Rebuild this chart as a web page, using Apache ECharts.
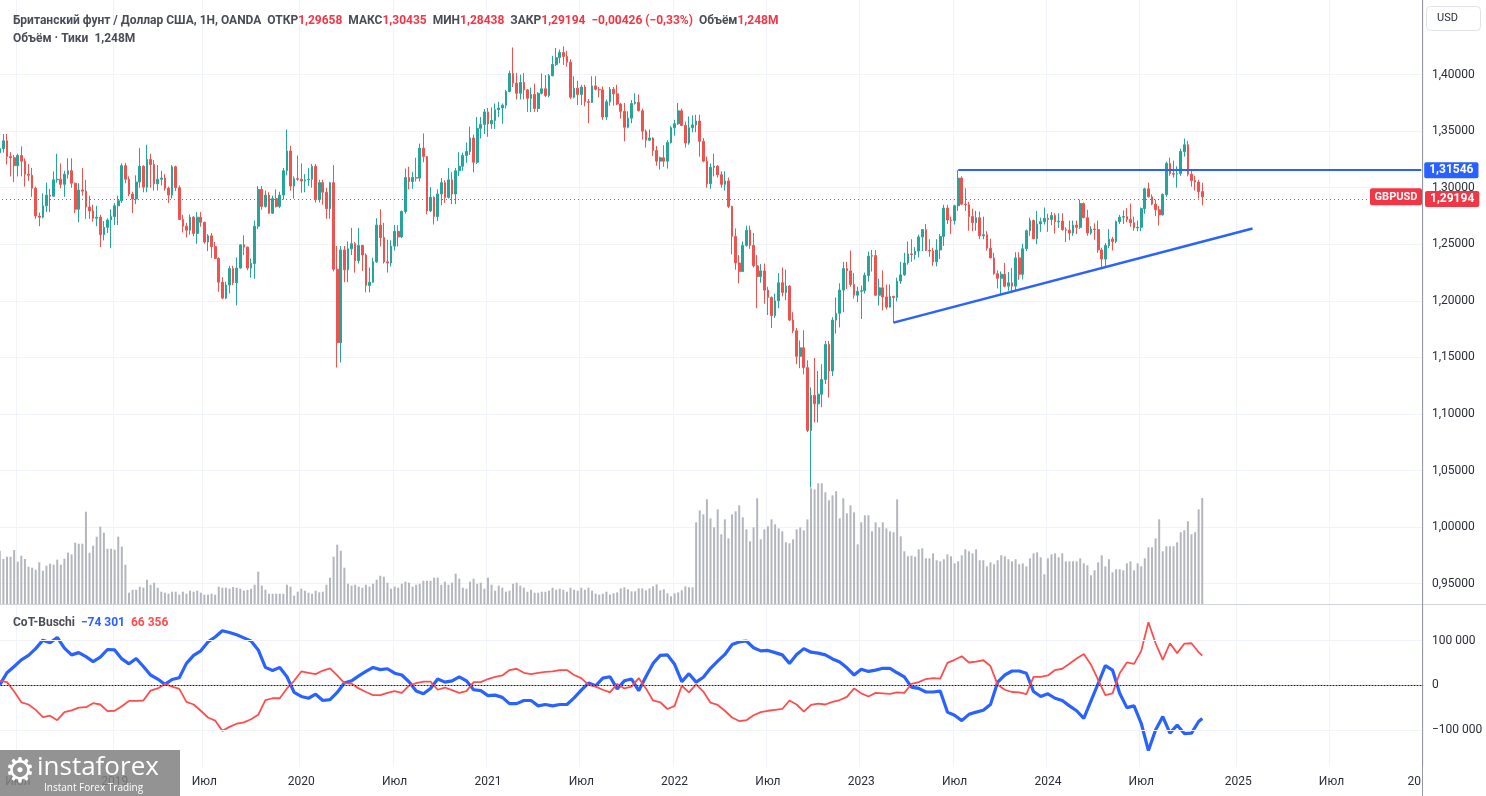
<!DOCTYPE html>
<html>
<head>
<meta charset="utf-8">
<script src="https://cdn.jsdelivr.net/npm/echarts@6/dist/echarts.min.js"></script>
<style>
  html, body { margin: 0; padding: 0; background: #fff; }
  #chart { width: 1486px; height: 796px; }
</style>
</head>
<body>
<div id="chart"></div>
<script>
// GBPUSD, weekly bars from 2018-05-28 to 2024-10-28, [open, close, low, high]
var y2018 = [
  [1.3310,1.3345,1.3205,1.3365],[1.3345,1.3415,1.3310,1.3475],[1.3415,1.3275,1.3205,1.3475],[1.3275,1.3265,1.3100,1.3315],
  [1.3265,1.3195,1.3050,1.3290],[1.3195,1.3285,1.3100,1.3300],[1.3285,1.3235,1.3100,1.3365],[1.3235,1.3120,1.3010,1.3260],
  [1.3120,1.3110,1.3060,1.3210],[1.3110,1.2995,1.2920,1.3175],[1.2995,1.2750,1.2725,1.3010],[1.2750,1.2740,1.2660,1.2780],
  [1.2740,1.2840,1.2730,1.2950],[1.2840,1.2935,1.2785,1.3045],[1.2935,1.2925,1.2785,1.2990],[1.2925,1.3070,1.2920,1.3145],
  [1.3070,1.3075,1.3045,1.3300],[1.3075,1.3030,1.2995,1.3215],[1.3030,1.3120,1.2920,1.3150],[1.3120,1.3150,1.3080,1.3260],
  [1.3150,1.3040,1.3000,1.3260],[1.3040,1.2810,1.2775,1.3045],[1.2810,1.2980,1.2695,1.3040],[1.2980,1.2970,1.2930,1.3175],
  [1.2970,1.2830,1.2725,1.3070],[1.2830,1.2795,1.2725,1.2930],[1.2795,1.2730,1.2700,1.2850],[1.2730,1.2740,1.2660,1.2840],
  [1.2740,1.2585,1.2475,1.2760],[1.2585,1.2650,1.2535,1.2705],[1.2650,1.2715,1.2600,1.2730],[1.2715,1.2745,1.2465,1.2810]
];
var y2019 = [
  [1.2745,1.2840,1.2670,1.2865],[1.2840,1.2885,1.2670,1.2930],[1.2885,1.3195,1.2865,1.3215],[1.3195,1.3075,1.3040,1.3220],
  [1.3075,1.2945,1.2925,1.3100],[1.2945,1.2900,1.2775,1.2965],[1.2900,1.3050,1.2855,1.3110],[1.3050,1.3190,1.3000,1.3350],
  [1.3190,1.3005,1.2960,1.3200],[1.3005,1.3250,1.2960,1.3380],[1.3250,1.3205,1.3000,1.3300],[1.3205,1.3035,1.2975,1.3245],
  [1.3035,1.3075,1.2975,1.3200],[1.3075,1.3085,1.3020,1.3150],[1.3085,1.2995,1.2975,1.3120],[1.2995,1.2935,1.2865,1.3010],
  [1.2935,1.3185,1.2905,1.3200],[1.3185,1.3000,1.2970,1.3195],[1.3000,1.2720,1.2715,1.3020],[1.2720,1.2660,1.2605,1.2760],
  [1.2660,1.2625,1.2560,1.2690],[1.2625,1.2740,1.2585,1.2765],[1.2740,1.2595,1.2570,1.2750],[1.2595,1.2740,1.2505,1.2785],
  [1.2740,1.2695,1.2655,1.2785],[1.2695,1.2520,1.2505,1.2700],[1.2520,1.2575,1.2440,1.2590],[1.2575,1.2480,1.2380,1.2600],
  [1.2480,1.2375,1.2370,1.2520],[1.2375,1.2165,1.2080,1.2385],[1.2165,1.2025,1.2015,1.2210],[1.2025,1.2140,1.2015,1.2170],
  [1.2140,1.2285,1.2065,1.2310],[1.2285,1.2160,1.2140,1.2310],[1.2160,1.2290,1.1960,1.2385],[1.2290,1.2495,1.2285,1.2500],
  [1.2495,1.2475,1.2405,1.2580],[1.2475,1.2290,1.2270,1.2480],[1.2290,1.2330,1.2205,1.2375],[1.2330,1.2660,1.2195,1.2710],
  [1.2660,1.2985,1.2635,1.3015],[1.2985,1.2835,1.2805,1.3015],[1.2835,1.2935,1.2825,1.2975],[1.2935,1.2775,1.2770,1.2960],
  [1.2775,1.2905,1.2770,1.2930],[1.2905,1.2835,1.2825,1.2985],[1.2835,1.2935,1.2820,1.2965],[1.2935,1.3150,1.2895,1.3175],
  [1.3150,1.3325,1.3110,1.3515],[1.3325,1.3015,1.2975,1.3370],[1.3015,1.3080,1.2905,1.3100],[1.3080,1.3075,1.3060,1.3285]
];
var y2020 = [
  [1.3075,1.3060,1.2955,1.3215],[1.3060,1.3070,1.2960,1.3120],[1.3070,1.3075,1.3015,1.3175],[1.3075,1.3190,1.3000,1.3210],
  [1.3190,1.2895,1.2870,1.3210],[1.2895,1.3045,1.2870,1.3070],[1.3045,1.2960,1.2850,1.3070],[1.2960,1.2815,1.2725,1.3000],
  [1.2815,1.3045,1.2725,1.3050],[1.3045,1.2280,1.2260,1.3200],[1.2280,1.1630,1.1410,1.2485],[1.1630,1.2450,1.1455,1.2485],
  [1.2450,1.2275,1.2165,1.2485],[1.2275,1.2460,1.2165,1.2525],[1.2460,1.2505,1.2405,1.2645],[1.2505,1.2355,1.2250,1.2520],
  [1.2355,1.2490,1.2330,1.2645],[1.2490,1.2405,1.2265,1.2495],[1.2405,1.2135,1.2075,1.2420],[1.2135,1.2165,1.2075,1.2295],
  [1.2165,1.2345,1.2160,1.2380],[1.2345,1.2670,1.2335,1.2730],[1.2670,1.2560,1.2480,1.2810],[1.2560,1.2345,1.2330,1.2690],
  [1.2345,1.2335,1.2250,1.2540],[1.2335,1.2485,1.2305,1.2535],[1.2485,1.2615,1.2445,1.2670],[1.2615,1.2565,1.2480,1.2670],
  [1.2565,1.2790,1.2555,1.2800],[1.2790,1.3090,1.2770,1.3170],[1.3090,1.3055,1.2985,1.3185],[1.3055,1.3090,1.2990,1.3140],
  [1.3090,1.3085,1.3055,1.3265],[1.3085,1.3350,1.3055,1.3390],[1.3350,1.3275,1.3225,1.3480],[1.3275,1.2795,1.2765,1.3280],
  [1.2795,1.2915,1.2785,1.3005],[1.2915,1.2745,1.2675,1.2925],[1.2745,1.2945,1.2705,1.2985],[1.2945,1.3045,1.2845,1.3085],
  [1.3045,1.2915,1.2865,1.3065],[1.2915,1.3070,1.2905,1.3175],[1.3070,1.2945,1.2855,1.3140],[1.2945,1.3150,1.2855,1.3175],
  [1.3150,1.3190,1.3105,1.3315],[1.3190,1.3285,1.3150,1.3310],[1.3285,1.3320,1.3220,1.3400],[1.3320,1.3440,1.3290,1.3540],
  [1.3440,1.3225,1.3135,1.3470],[1.3225,1.3525,1.3210,1.3625],[1.3525,1.3560,1.3435,1.3625],[1.3560,1.3670,1.3475,1.3695]
];
var y2021 = [
  [1.3670,1.3565,1.3450,1.3705],[1.3565,1.3595,1.3520,1.3710],[1.3595,1.3690,1.3520,1.3745],[1.3690,1.3705,1.3625,1.3760],
  [1.3705,1.3730,1.3565,1.3745],[1.3730,1.3850,1.3700,1.3865],[1.3850,1.4010,1.3845,1.4035],[1.4010,1.3925,1.3890,1.4240],
  [1.3925,1.3835,1.3780,1.4015],[1.3835,1.3930,1.3780,1.4000],[1.3930,1.3865,1.3780,1.4015],[1.3865,1.3790,1.3670,1.3870],
  [1.3790,1.3825,1.3670,1.3885],[1.3825,1.3700,1.3670,1.3920],[1.3700,1.3835,1.3670,1.3845],[1.3835,1.3875,1.3825,1.4010],
  [1.3875,1.3815,1.3800,1.3995],[1.3815,1.3990,1.3800,1.4005],[1.3990,1.4090,1.3985,1.4165],[1.4090,1.4150,1.4075,1.4235],
  [1.4150,1.4195,1.4100,1.4220],[1.4195,1.4160,1.4085,1.4250],[1.4160,1.4110,1.4070,1.4210],[1.4110,1.3800,1.3785,1.4135],
  [1.3800,1.3880,1.3790,1.3985],[1.3880,1.3825,1.3730,1.3945],[1.3825,1.3890,1.3730,1.3910],[1.3890,1.3760,1.3720,1.3910],
  [1.3760,1.3755,1.3570,1.3785],[1.3755,1.3900,1.3750,1.3985],[1.3900,1.3870,1.3860,1.3985],[1.3870,1.3865,1.3800,1.3890],
  [1.3865,1.3625,1.3600,1.3895],[1.3625,1.3760,1.3600,1.3780],[1.3760,1.3870,1.3725,1.3890],[1.3870,1.3830,1.3725,1.3890],
  [1.3830,1.3740,1.3730,1.3910],[1.3740,1.3675,1.3610,1.3750],[1.3675,1.3535,1.3410,1.3750],[1.3535,1.3615,1.3525,1.3675],
  [1.3615,1.3745,1.3570,1.3775],[1.3745,1.3755,1.3735,1.3835],[1.3755,1.3680,1.3675,1.3825],[1.3680,1.3500,1.3425,1.3700],
  [1.3500,1.3420,1.3355,1.3515],[1.3420,1.3440,1.3415,1.3515],[1.3440,1.3330,1.3280,1.3445],[1.3330,1.3235,1.3195,1.3370],
  [1.3235,1.3265,1.3160,1.3275],[1.3265,1.3235,1.3185,1.3375],[1.3235,1.3400,1.3170,1.3420],[1.3400,1.3530,1.3390,1.3545]
];
var y2022 = [
  [1.3530,1.3565,1.3460,1.3600],[1.3565,1.3680,1.3555,1.3750],[1.3680,1.3550,1.3545,1.3700],[1.3550,1.3395,1.3355,1.3585],
  [1.3395,1.3530,1.3380,1.3630],[1.3530,1.3555,1.3490,1.3640],[1.3555,1.3590,1.3490,1.3645],[1.3590,1.3410,1.3275,1.3645],
  [1.3410,1.3235,1.3225,1.3440],[1.3235,1.3035,1.3000,1.3275],[1.3035,1.3180,1.2990,1.3215],[1.3180,1.3190,1.3100,1.3300],
  [1.3190,1.3115,1.3090,1.3200],[1.3115,1.3030,1.3000,1.3145],[1.3030,1.3060,1.2975,1.3145],[1.3060,1.2835,1.2820,1.3090],
  [1.2835,1.2570,1.2410,1.2840],[1.2570,1.2335,1.2275,1.2640],[1.2335,1.2260,1.2155,1.2405],[1.2260,1.2490,1.2255,1.2525],
  [1.2490,1.2625,1.2480,1.2665],[1.2625,1.2490,1.2460,1.2665],[1.2490,1.2310,1.2295,1.2600],[1.2310,1.2215,1.1935,1.2405],
  [1.2215,1.2265,1.2160,1.2325],[1.2265,1.2095,1.1975,1.2330],[1.2095,1.2030,1.1875,1.2125],[1.2030,1.1870,1.1760,1.2040],
  [1.1870,1.2000,1.1850,1.2065],[1.2000,1.2160,1.1935,1.2245],[1.2160,1.2075,1.2040,1.2295],[1.2075,1.2130,1.2005,1.2275],
  [1.2130,1.1830,1.1820,1.2140],[1.1830,1.1735,1.1715,1.1900],[1.1735,1.1510,1.1440,1.1760],[1.1510,1.1585,1.1405,1.1650],
  [1.1585,1.1410,1.1350,1.1740],[1.1410,1.0855,1.0840,1.1475],[1.0855,1.1165,1.0350,1.1235],[1.1165,1.1090,1.0925,1.1495],
  [1.1090,1.1175,1.0925,1.1380],[1.1175,1.1305,1.1060,1.1440],[1.1305,1.1615,1.1265,1.1645],[1.1615,1.1380,1.1145,1.1645],
  [1.1380,1.1830,1.1335,1.1855],[1.1830,1.1890,1.1710,1.2030],[1.1890,1.2095,1.1765,1.2155],[1.2095,1.2285,1.1900,1.2345],
  [1.2285,1.2265,1.2105,1.2345],[1.2265,1.2145,1.2125,1.2445],[1.2145,1.2050,1.2020,1.2245],[1.2050,1.2085,1.1990,1.2125]
];
var y2023 = [
  [1.2085,1.2090,1.1840,1.2135],[1.2090,1.2225,1.2065,1.2250],[1.2225,1.2395,1.2170,1.2435],[1.2395,1.2400,1.2260,1.2450],
  [1.2400,1.2050,1.2045,1.2450],[1.2050,1.2115,1.1960,1.2195],[1.2115,1.2035,1.1915,1.2270],[1.2035,1.1945,1.1925,1.2145],
  [1.1945,1.2040,1.1940,1.2145],[1.2040,1.2030,1.1805,1.2045],[1.2030,1.2175,1.1995,1.2205],[1.2175,1.2230,1.2150,1.2345],
  [1.2230,1.2335,1.2220,1.2425],[1.2335,1.2415,1.2320,1.2525],[1.2415,1.2410,1.2345,1.2545],[1.2410,1.2440,1.2365,1.2475],
  [1.2440,1.2565,1.2385,1.2585],[1.2565,1.2630,1.2440,1.2635],[1.2630,1.2445,1.2440,1.2680],[1.2445,1.2440,1.2390,1.2545],
  [1.2440,1.2345,1.2310,1.2470],[1.2345,1.2450,1.2305,1.2545],[1.2450,1.2570,1.2370,1.2590],[1.2570,1.2820,1.2485,1.2850],
  [1.2820,1.2715,1.2680,1.2850],[1.2715,1.2710,1.2590,1.2745],[1.2710,1.2840,1.2675,1.2850],[1.2840,1.3085,1.2795,1.31546],
  [1.3085,1.2855,1.2845,1.3100],[1.2855,1.2850,1.2795,1.2995],[1.2850,1.2745,1.2620,1.2875],[1.2745,1.2690,1.2615,1.2815],
  [1.2690,1.2735,1.2620,1.2795],[1.2735,1.2575,1.2545,1.2790],[1.2575,1.2585,1.2545,1.2745],[1.2585,1.2465,1.2445,1.2615],
  [1.2465,1.2380,1.2375,1.2550],[1.2380,1.2240,1.2230,1.2425],[1.2240,1.2200,1.2110,1.2270],[1.2200,1.2235,1.2060,1.2260],
  [1.2235,1.2130,1.2120,1.2335],[1.2130,1.2160,1.2090,1.2255],[1.2160,1.2130,1.2070,1.2290],[1.2130,1.2380,1.2095,1.2430],
  [1.2380,1.2235,1.2185,1.2430],[1.2235,1.2460,1.2190,1.2505],[1.2460,1.2620,1.2440,1.2630],[1.2620,1.2710,1.2575,1.2735],
  [1.2710,1.2550,1.2545,1.2720],[1.2550,1.2680,1.2500,1.2795],[1.2680,1.2700,1.2610,1.2735],[1.2700,1.2730,1.2675,1.2825]
];
var y2024 = [
  [1.2730,1.2720,1.2610,1.2770],[1.2720,1.2755,1.2670,1.2785],[1.2755,1.2700,1.2595,1.2775],[1.2700,1.2705,1.2645,1.2775],
  [1.2705,1.2630,1.2620,1.2775],[1.2630,1.2625,1.2520,1.2650],[1.2625,1.2600,1.2535,1.2710],[1.2600,1.2670,1.2575,1.2710],
  [1.2670,1.2650,1.2590,1.2710],[1.2650,1.2860,1.2635,1.2895],[1.2860,1.2735,1.2730,1.2870],[1.2735,1.2600,1.2575,1.2805],
  [1.2600,1.2635,1.2585,1.2660],[1.2635,1.2630,1.2540,1.2685],[1.2630,1.2450,1.2425,1.2710],[1.2450,1.2370,1.2300,1.2470],
  [1.2370,1.2490,1.2300,1.2510],[1.2490,1.2545,1.2465,1.2635],[1.2545,1.2525,1.2445,1.2565],[1.2525,1.2700,1.2510,1.2710],
  [1.2700,1.2740,1.2680,1.2760],[1.2740,1.2745,1.2680,1.2800],[1.2745,1.2720,1.2695,1.2820],[1.2720,1.2690,1.2655,1.2860],
  [1.2690,1.2645,1.2620,1.2745],[1.2645,1.2650,1.2615,1.2710],[1.2650,1.2815,1.2615,1.2825],[1.2815,1.2990,1.2770,1.3000],
  [1.2990,1.2920,1.2915,1.3045],[1.2920,1.2855,1.2845,1.2940],[1.2855,1.2805,1.2750,1.2895],[1.2805,1.2760,1.2665,1.2840],
  [1.2760,1.2940,1.2755,1.2950],[1.2940,1.3215,1.2920,1.3230],[1.3215,1.3125,1.3105,1.3265],[1.3125,1.3120,1.3090,1.3240],
  [1.3120,1.3125,1.3000,1.3190],[1.3125,1.3320,1.3105,1.3345],[1.3320,1.3380,1.3275,1.3435],[1.3380,1.3120,1.3100,1.3415],
  [1.3120,1.3065,1.3010,1.3160],[1.3065,1.3050,1.2975,1.3105],[1.3050,1.2966,1.2905,1.3070],[1.29658,1.29194,1.28438,1.30435]
];

// tick volume, thousands
var volumeA = [
  628,530,557,557,636,498,569,530,439,428, 404,491,392,451,475,463,522,463,534,604,
  585,722,710,710,1087,604,687,793,911,840, 651,651,640,793,675,463,133,168,168,204,
  192,286,227,251,192,145,133,121,145,145, 110,145,121,157,145,157,133,110,110,121,
  110,204,192,192,180,200,192,180,157,165, 180,227,381,216,168,121,121,121,121,121,
  227,204,98,145,180,157,133,121,157,138, 145,227,310,557,699,628,428,239,216,227,
  204,192,227,204,239,286,333,322,251,180, 204,192,239,263,251,204,227,239,274,274,
  274,310,310,227,263,227,251,357,298,192, 180,263,298,239,251,180,310,227,157,216,
  192,145,157,239,251,216,192,145,168,133, 133,145,145,157,192,168,180,168,145,192,
  168,157,192,168,192,157,121,110,121,145, 110
];
var volumeB = [
  126,137,184,196,173,149,149,
  184,184,161,184,208,232,161,173,126,90, 126,137,161,208,196,196,962,1103,1056,1233,
  1009,903,1115,821,997,773,1056,1092,1162,1021, 879,738,903,1245,762,879,915,997,938,891,
  856,727,715,762,879,903,868,997,1363,1351, 1422,1422,1316,1222,1280,1328,1009,1245,1068,1162,
  1080,703,962,1045,1045,856,962,903,962,891, 856,845,1233,797,621,562,569,557,644,656,
  538,538,597,515,503,527,585,562,479,503, 574,644,621,597,644,515,515,444,491,468,
  515,574,562,527,503,527,468,479,444,538, 597,609,550,350,538,585,597,550,597,503,
  503,503,503,538,479,456,338,397,491,574, 444,527,373,409,409,397,479,503,397,479,
  444,538,668,668,773,997,621,680,680,680, 727,845,868,974,821,845,1115,1248
];

// CoT-Buschi, thousands, every second week from the first bar, last value on the last bar
var cotBlue = [
  1,28,42,57,67,82,101,95,107,83, 68,73,64,53,63,80,79,59,48,60, 42,23,14,2,13,17,49,67,77,97,
  108,122,118,113,106,99,79,40,33,40, 19,-16,-25,-29,-20,-34,-32,-16,5,10, 21,31,40,35,37,27,23,8,-13,-19,
  -7,14,7,10,19,10,-10,-12,-23,-22, -27,-41,-41,-34,-34,-46,-43,-46,-43,-43, -28,-11,5,-1,16,19,
  -8,10,14,-12,19,49,67,68,47,8, 26,7,18,38,54,69,91,97,99,84, 77,78,73,68,49,69,82,74,72,68,
  59,52,39,23,36,31,34,38,38,28, 19,-4,-7,-15,-15,-13,-60,-67,-79,-65, -60,-56,-43,7,23,32,32,27,-14,-25,
  -19,-29,-34,-46,-57,-74,-35,4,44,34, -18,-50,-46,-85,-146,-100,-70,-107,-89,-108, -107,-81,
  -74.301
];
var cotRed = [
  10,7,-14,-38,-43,-55,-71,-68,-78,-60, -56,-50,-49,-40,-43,-58,-57,-47,-35,-35, -34,-12,-7,3,-3,-8,-37,-43,-57,-72,
  -79,-102,-93,-86,-83,-76,-66,-33,-29,-29, -7,10,31,28,25,33,38,22,5,4, -7,-15,-22,-22,-17,-13,-17,-1,5,8,
  8,-10,-5,-11,-17,-13,7,7,14,19, 22,34,37,28,25,28,30,31,34,34, 23,16,1,-3,-10,-16,
  3,-7,-3,16,-7,-34,-38,-53,-46,-1, -16,2,-14,-39,-44,-57,-72,-80,-78,-67, -60,-57,-55,-53,-34,-43,-59,-44,-41,-43,
  -37,-33,-26,-7,-18,-25,-17,-18,-19,-16, -17,3,7,14,16,15,50,57,65,51, 53,56,43,1,-10,-15,-16,-20,19,19,
  22,34,37,48,60,70,46,12,-22,-18, 27,51,48,77,141,94,57,94,72,93, 94,74,
  66.356
];

var lastClose = 1.29194;
var levelPrice = 1.31546;
var levelFrom = 267;                       // bar of the July 2023 high
var trendLine = [[249, 1.1808], [349, 1.2639]];
var cotLevels = [100, 0, -100];
var cotLevelText = ['100 000', '0', '\u2212100 000'];

var ohlc = [].concat(y2018, y2019, y2020, y2021, y2022, y2023, y2024);
var volumes = volumeA.concat(volumeB);

// weekly category axis, extended into empty space on the right
var weeks = [];
var t0 = Date.UTC(2018, 4, 28);
for (var i = 0; i < 397; i++) {
  weeks.push(new Date(t0 + i * 7 * 86400000).toISOString().slice(0, 10));
}
function isTick(idx) {
  if (idx === 0) return false;
  var m = weeks[idx].slice(5, 7), pm = weeks[idx - 1].slice(5, 7);
  return m !== pm && (m === '01' || m === '07');
}
function tickText(v) {
  return v.slice(5, 7) === '01' ? v.slice(0, 4) : 'Июл';
}

var cotIdx = function (i, arr) { return i < arr.length - 1 ? 2 * i : ohlc.length - 1; };
var blueData = cotBlue.map(function (v, i) { return [cotIdx(i, cotBlue), v]; });
var redData = cotRed.map(function (v, i) { return [cotIdx(i, cotRed), v]; });

var FONT = 'Roboto';
var TXT = '#2a2e39';
var GRID = '#f0f3fa';
var UP = '#26a69a', DOWN = '#ef5350', BLUE = '#2962ff', RED = '#f23645';

var chart = echarts.init(document.getElementById('chart'));

var option = {
  animation: false,
  backgroundColor: '#fff',
  textStyle: { fontFamily: FONT },
  title: [
    {
      left: 8, top: 7,
      text: '{t|Британский фунт / Доллар США, 1Н, OANDA}  {t|ОТКР}{r|1,29658}  {t|МАКС}{r|1,30435}  {t|МИН}{r|1,28438}  {t|ЗАКР}{r|1,29194}  {r|\u22120,00426 (\u22120,33%)}  {t|Объём}{r|1,248M}\n{t|Объём · Тики  1,248M}',
      textStyle: {
        fontFamily: FONT, fontSize: 12, lineHeight: 18,
        rich: {
          t: { color: '#4a4d57', fontFamily: FONT, fontSize: 12, lineHeight: 18 },
          r: { color: RED, fontFamily: FONT, fontSize: 12, lineHeight: 18 }
        }
      }
    },
    {
      left: 8, top: 612,
      text: '{t|CoT-Buschi}  {b|\u221274 301}  {r|66 356}',
      textStyle: {
        fontFamily: FONT, fontSize: 12,
        rich: {
          t: { color: '#4a4d57', fontFamily: FONT, fontSize: 12 },
          b: { color: BLUE, fontFamily: FONT, fontSize: 12 },
          r: { color: '#ff4d4d', fontFamily: FONT, fontSize: 12 }
        }
      }
    }
  ],
  grid: [
    { left: -2, right: 63, top: 0, height: 604, containLabel: false, outerBoundsMode: 'none' },
    { left: -2, right: 63, top: 74.6, height: 509.1, containLabel: false, outerBoundsMode: 'none' },
    { left: -2, right: 63, top: 605, height: 162, containLabel: false, outerBoundsMode: 'none' }
  ],
  xAxis: [
    {
      gridIndex: 0, type: 'category', data: weeks,
      axisLine: { show: false }, axisTick: { show: false }, axisLabel: { show: false },
      splitLine: { show: true, interval: isTick, lineStyle: { color: GRID, width: 1 } }
    },
    { gridIndex: 1, type: 'category', data: weeks, show: false },
    {
      gridIndex: 2, type: 'category', data: weeks,
      axisLine: { show: true, lineStyle: { color: '#9598a1', width: 1 } },
      axisTick: { show: false },
      axisLabel: { interval: isTick, formatter: tickText, color: TXT, fontSize: 12, fontFamily: FONT, margin: 9 },
      splitLine: { show: true, interval: isTick, lineStyle: { color: GRID, width: 1 } }
    }
  ],
  yAxis: [
    { gridIndex: 0, type: 'value', min: 0, max: 7115, show: false },
    {
      gridIndex: 1, type: 'value', position: 'right', min: 0.95, max: 1.40, interval: 0.05,
      axisLine: { show: false }, axisTick: { show: false },
      splitLine: { show: true, lineStyle: { color: GRID, width: 1 } },
      axisLabel: {
        color: TXT, fontSize: 12, fontFamily: FONT, margin: 9,
        formatter: function (v) { return v.toFixed(5).replace('.', ','); }
      }
    },
    { gridIndex: 2, type: 'value', min: -182.8, max: 179.6, show: false }
  ],
  series: [
    {
      name: 'volume', type: 'bar', xAxisIndex: 0, yAxisIndex: 0,
      data: volumes, barWidth: 2, silent: true,
      itemStyle: { color: '#b4b6bd' }
    },
    {
      name: 'GBPUSD', type: 'candlestick', xAxisIndex: 1, yAxisIndex: 1,
      data: ohlc, barWidth: 2.2, clip: false, silent: true,
      itemStyle: { color: UP, color0: DOWN, borderColor: UP, borderColor0: DOWN, borderWidth: 1 },
      markLine: {
        silent: true, symbol: 'none', animation: false,
        data: [
          {
            yAxis: lastClose,
            lineStyle: { color: RED, type: [1, 3], width: 1 },
            label: {
              show: true, position: 'end', distance: 2, formatter: '1,29194',
              color: '#fff', backgroundColor: RED, fontFamily: FONT, fontSize: 12, fontWeight: 'bold',
              padding: [2, 5, 2, 5], borderRadius: 2
            }
          },
          [
            {
              coord: [weeks[levelFrom], levelPrice],
              lineStyle: { color: BLUE, type: 'solid', width: 2 },
              label: {
                show: true, position: 'end', distance: 3, formatter: '1,31546',
                color: '#fff', backgroundColor: BLUE, fontFamily: FONT, fontSize: 12, fontWeight: 'bold',
                padding: [2, 5, 2, 5], borderRadius: 2
              }
            },
            { coord: [weeks[weeks.length - 1], levelPrice] }
          ],
          [
            {
              coord: [weeks[trendLine[0][0]], trendLine[0][1]],
              lineStyle: { color: BLUE, type: 'solid', width: 2.5 },
              label: { show: false }
            },
            { coord: [weeks[trendLine[1][0]], trendLine[1][1]] }
          ]
        ]
      }
    },
    {
      name: 'CoT blue', type: 'line', xAxisIndex: 2, yAxisIndex: 2,
      data: blueData, symbol: 'none', silent: true, clip: false,
      lineStyle: { color: BLUE, width: 3.2 },
      markLine: {
        silent: true, symbol: 'none', animation: false,
        data: cotLevels.map(function (lv, i) {
          return {
            yAxis: lv,
            lineStyle: lv === 0 ? { color: '#131722', type: [1, 2], width: 1 } : { color: GRID, type: 'solid', width: 1 },
            label: { show: true, position: 'end', distance: 9, formatter: cotLevelText[i], color: TXT, fontFamily: FONT, fontSize: 12 }
          };
        })
      }
    },
    {
      name: 'CoT red', type: 'line', xAxisIndex: 2, yAxisIndex: 2,
      data: redData, symbol: 'none', silent: true, clip: false,
      lineStyle: { color: '#ff4d4d', width: 1.8 }
    }
  ],
  graphic: {
    elements: [
      { id: 'sepH', type: 'line', silent: true, z: 50, shape: { x1: 0, y1: 604.5, x2: 1486, y2: 604.5 }, style: { stroke: '#d1d4dc', lineWidth: 1 } },
      { id: 'sepV', type: 'line', silent: true, z: 50, shape: { x1: 1422.5, y1: 0, x2: 1422.5, y2: 796 }, style: { stroke: '#9598a1', lineWidth: 1 } },
      { id: 'usdBox', type: 'rect', silent: true, z: 50, shape: { x: 1426.5, y: 6.5, width: 54, height: 24, r: 4 }, style: { fill: '#fff', stroke: '#e0e3eb', lineWidth: 1 } },
      { id: 'usdText', type: 'text', silent: true, z: 51, x: 1437, y: 18.5, style: { text: 'USD', fill: TXT, font: '11px Roboto', textVerticalAlign: 'middle' } },
      { id: 'cut20', type: 'text', silent: true, z: 51, x: 1421, y: 782, style: { text: '20', fill: TXT, font: '12px Roboto', textAlign: 'right', textVerticalAlign: 'middle' } },
      { id: 'logoBox', type: 'rect', silent: true, z: 60, shape: { x: 0, y: 750, width: 180, height: 46 }, style: { fill: 'rgba(128,128,128,0.85)' } },
      { id: 'logoGear', type: 'text', silent: true, z: 61, x: 20, y: 773, style: { text: '\u2699', fill: '#fff', font: '34px "DejaVu Sans"', textAlign: 'center', textVerticalAlign: 'middle' } },
      { id: 'logoName', type: 'text', silent: true, z: 61, x: 37, y: 768, style: { text: 'instaforex', fill: '#fff', font: '26px "Open Sans"', textVerticalAlign: 'middle' } },
      { id: 'logoSub', type: 'text', silent: true, z: 61, x: 44, y: 788, style: { text: 'Instant Forex Trading', fill: '#fff', font: '10px "Open Sans"', textVerticalAlign: 'middle' } }
    ]
  }
};

chart.setOption(option);

// symbol tag left of the last-price label
var tagY = chart.convertToPixel({ yAxisIndex: 1 }, lastClose);
chart.setOption({
  graphic: {
    elements: [
      { id: 'symTag', type: 'rect', silent: true, z: 55, shape: { x: 1370, y: tagY - 8.5, width: 52, height: 17, r: 2 }, style: { fill: RED } },
      { id: 'symText', type: 'text', silent: true, z: 56, x: 1396, y: tagY, style: { text: 'GBPUSD', fill: '#fff', font: 'bold 11px Roboto', textAlign: 'center', textVerticalAlign: 'middle' } }
    ]
  }
});
</script>
</body>
</html>
